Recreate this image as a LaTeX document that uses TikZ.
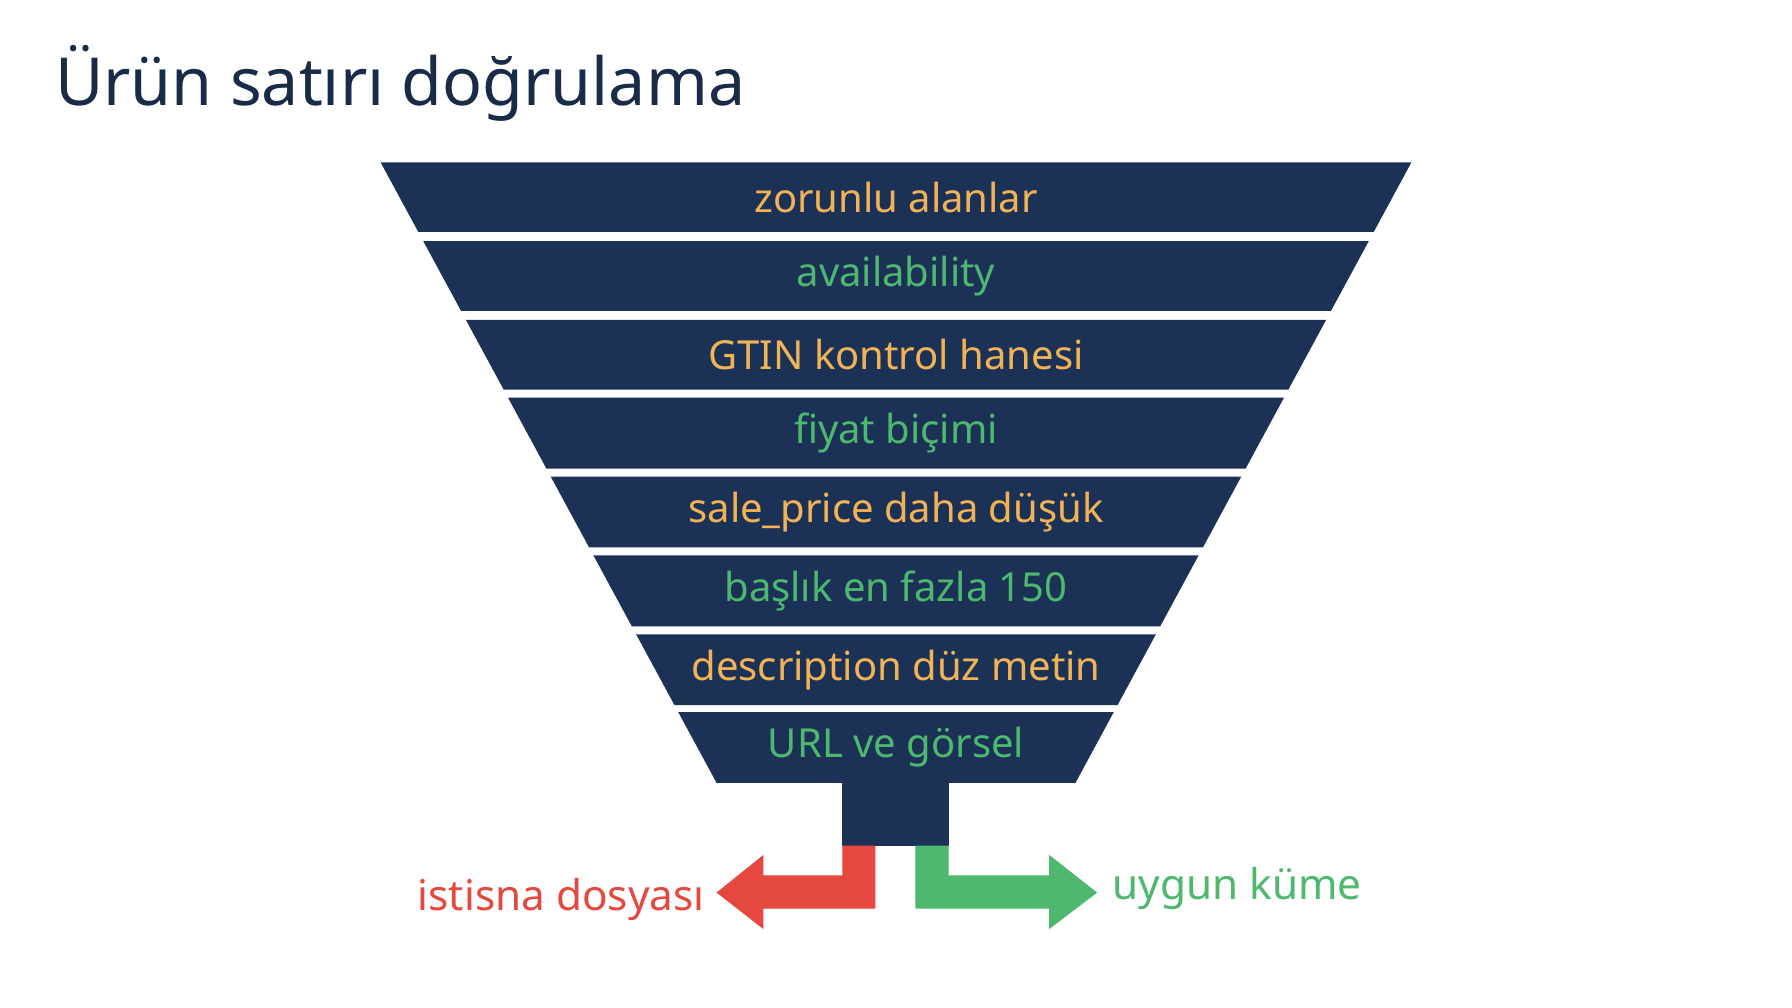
\documentclass[tikz,border=0pt]{standalone}
\usepackage{fontspec}
\setmainfont{Noto Sans}
\definecolor{navy}{HTML}{1B3256}
\definecolor{org}{HTML}{F2B356}
\definecolor{grn}{HTML}{4DB86E}
\definecolor{rd}{HTML}{E5483E}
\definecolor{ttl}{HTML}{1A2B48}
\begin{document}
\begin{tikzpicture}[x=1pt,y=-1pt,
  band/.style={fill=navy},
  lbl/.style={font=\fontsize{35}{40}\selectfont,anchor=center}]
\useasboundingbox (0,0) rectangle (1568,882);
\fill[white] (0,0) rectangle (1568,882);
\node[anchor=base west,text=ttl,font=\fontsize{58}{64}\selectfont\bfseries,inner sep=0] (title) at (48,92) {Ürün satırı doğrulama};
\def\L#1{333+0.5414*(#1-142)}
\def\R#1{1235-0.5414*(#1-142)}
\foreach \t/\b/\txt/\c [count=\i] in {142/203/zorunlu alanlar/org, 211/272/availability/grn, 280/341/GTIN kontrol hanesi/org, 348/410/fiyat biçimi/grn, 417/479/sale\_price daha düşük/org, 486/548/başlık en fazla 150/grn, 555/617/description düz metin/org, 623/685/URL ve görsel/grn}{
  \fill[band] ({\L{\t}},\t) -- ({\R{\t}},\t) -- ({\R{\b}},\b) -- ({\L{\b}},\b) -- cycle;
  \node[lbl,text=\c] (b\i) at (784,{(\t+\b)/2}) {\txt};
}
\fill[navy] (737,684) rectangle (830,740);
\fill[rd] (766,740) -- (766,795) -- (668,795) -- (668,813) -- (627,781) -- (668,748) -- (668,766) -- (737,766) -- (737,740) -- cycle;
\fill[grn] (801,740) -- (801,795) -- (918,795) -- (918,813) -- (960,781) -- (918,748) -- (918,766) -- (830,766) -- (830,740) -- cycle;
\node[anchor=east,text=rd,font=\fontsize{37}{42}\selectfont] (ex) at (620,787) {istisna dosyası};
\node[anchor=west,text=grn,font=\fontsize{37}{42}\selectfont] (ok) at (970,777) {uygun küme};
\end{tikzpicture}
\end{document}
